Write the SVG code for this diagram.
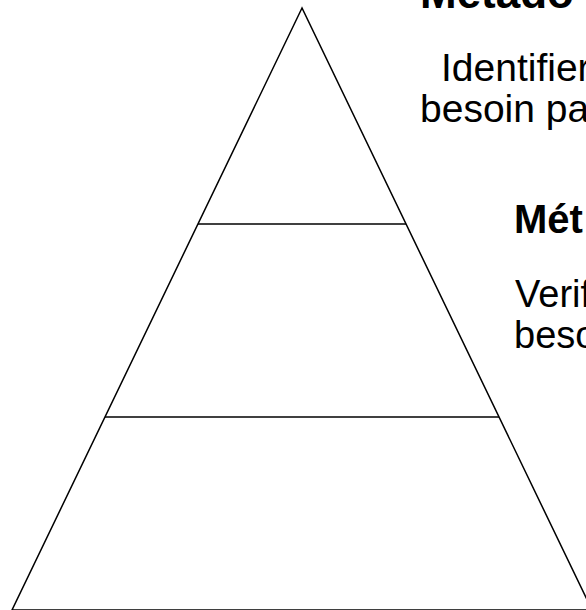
<svg xmlns="http://www.w3.org/2000/svg" width="586" height="610" viewBox="0 0 586 610">
<style>
.ln{fill:none;stroke:#000;stroke-width:1.5}
.t{font-family:"Liberation Sans",Arial,sans-serif;fill:#000}
.h{font-weight:bold}
</style>
<rect width="586" height="610" fill="#fff"/>
<g id="pyramid">
<polygon class="ln" points="302,8 12,610 592,610"/>
</g>
<g id="connectors">
<line id="div-top" class="ln" x1="198" y1="224" x2="406" y2="224"/>
<line id="div-mid" class="ln" x1="105" y1="417" x2="499" y2="417"/>
</g>
<g id="label-top">
<text class="t h" x="420" y="8" font-size="44">Métado</text>
<text class="t" x="441" y="81" font-size="39">Identifier</text>
<text class="t" x="420" y="122" font-size="39">besoin pa</text>
</g>
<g id="label-mid">
<text class="t h" x="514" y="233" font-size="40">Mét</text>
<text class="t" x="515" y="307" font-size="38">Verif</text>
<text class="t" x="514" y="348" font-size="38">beso</text>
</g>
</svg>
